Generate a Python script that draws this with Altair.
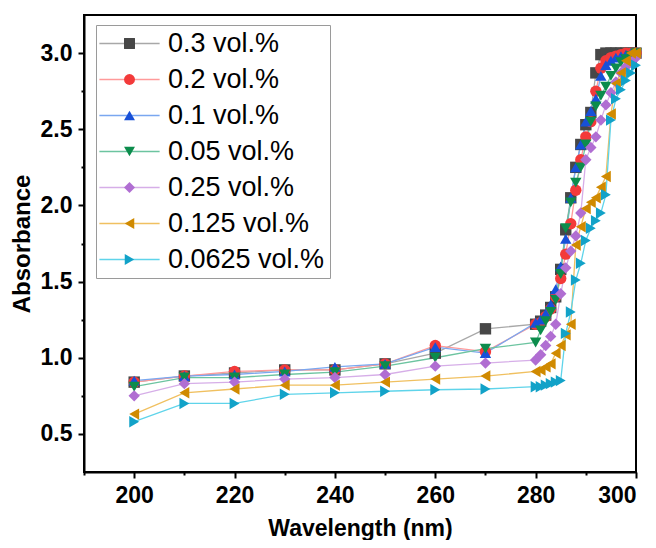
import altair as alt
import pandas as pd

wavelength = [200, 210, 220, 230, 240, 250, 260, 270, 280, 281, 282, 283, 284, 285,
              286, 287, 288, 289, 290, 291, 292, 293, 294, 295, 296, 297, 298, 299, 300]

series_names = ["0.3 vol.%", "0.2 vol.%", "0.1 vol.%", "0.05 vol.%",
                "0.25 vol.%", "0.125 vol.%", "0.0625 vol.%"]

abs_03 = [0.84, 0.88, 0.90, 0.92, 0.92, 0.96, 1.03, 1.19, 1.22, 1.24, 1.28, 1.33, 1.40, 1.58,
          1.84, 2.05, 2.25, 2.40, 2.53, 2.61, 2.87, 2.99, 3.00, 3.00, 3.00, 3.00, 3.00, 3.00, 3.00]
abs_02 = [0.84, 0.88, 0.91, 0.92, 0.92, 0.96, 1.08, 1.04, 1.22, 1.23, 1.27, 1.32, 1.40, 1.52,
          1.68, 1.88, 2.10, 2.30, 2.45, 2.55, 2.75, 2.90, 2.95, 2.97, 2.98, 2.99, 3.00, 3.00, 3.00]
abs_01 = [0.85, 0.88, 0.89, 0.91, 0.94, 0.96, 1.07, 1.03, 1.23, 1.25, 1.29, 1.35, 1.45, 1.60,
          1.78, 2.05, 2.25, 2.40, 2.55, 2.62, 2.70, 2.85, 2.92, 2.95, 2.97, 2.98, 2.99, 3.00, 3.00]
abs_005 = [0.81, 0.87, 0.87, 0.89, 0.905, 0.945, 1.00, 1.06, 1.10, 1.18, 1.24, 1.30, 1.38, 1.55,
           1.85, 2.02, 2.15, 2.25, 2.40, 2.55, 2.65, 2.72, 2.78, 2.85, 2.90, 2.94, 2.96, 2.98, 3.00]
abs_025 = [0.75, 0.83, 0.84, 0.86, 0.87, 0.89, 0.945, 0.965, 0.985, 1.02, 1.08, 1.14, 1.22, 1.42,
           1.59, 1.70, 1.80, 1.95, 2.30, 2.38, 2.45, 2.56, 2.66, 2.74, 2.81, 2.87, 2.91, 2.94, 2.97]
abs_0125 = [0.63, 0.77, 0.795, 0.82, 0.82, 0.84, 0.86, 0.88, 0.91, 0.92, 0.94, 0.96, 1.03, 1.08,
            1.15, 1.22, 1.74, 1.86, 1.98, 2.02, 2.05, 2.12, 2.19, 2.60, 2.80, 2.87, 2.95, 3.00, 3.00]
abs_00625 = [0.58, 0.70, 0.70, 0.76, 0.77, 0.78, 0.79, 0.795, 0.81, 0.81, 0.82, 0.83, 0.84, 0.85,
             1.16, 1.30, 1.51, 1.62, 1.77, 1.85, 1.90, 1.95, 2.07, 2.56, 2.70, 2.76, 2.82, 2.87, 2.92]

all_values = [abs_03, abs_02, abs_01, abs_005, abs_025, abs_0125, abs_00625]

dark_colors = ["#474747", "#f33a3a", "#1750d8", "#0c8c4c", "#b06ed2", "#d08a00", "#12a2c8"]
light_colors = ["#a8a8a8", "#ff9a9a", "#7aa7f0", "#6cc4a0", "#d6aee8", "#f0c060", "#5fd4ea"]
shapes = ["square", "circle", "triangle-up", "triangle-down", "diamond",
          "triangle-left", "triangle-right"]

x_ticks = list(range(190, 301, 10))
y_ticks = [0.5, 0.75, 1.0, 1.25, 1.5, 1.75, 2.0, 2.25, 2.5, 2.75, 3.0]

# line layer uses its own (visually identical) category keys so its legend stays separate
line_names = [n + " " for n in series_names]

rows = []
for name, lname, vals in zip(series_names, line_names, all_values):
    for w, v in zip(wavelength, vals):
        rows.append({"w": w, "a": v, "s": name, "line_s": lname})
df = pd.DataFrame(rows)

FONT = "Liberation Sans"
TICK_FONT = "Liberation Sans Narrow, Liberation Sans"

x_enc = alt.X(
    "w:Q",
    scale=alt.Scale(domain=[190, 300], nice=False, zero=False),
    axis=alt.Axis(
        values=x_ticks,
        labelExpr="datum.value % 20 == 0 ? datum.label : ''",
        tickSize={"condition": {"test": "datum.value % 20 == 0", "value": 6}, "value": 3},
        title="Wavelength (nm)",
        titlePadding=10,
        labelPadding=6,
    ),
)
y_enc = alt.Y(
    "a:Q",
    scale=alt.Scale(domain=[0.25, 3.25], nice=False, zero=False),
    axis=alt.Axis(
        values=y_ticks,
        format=".1f",
        labelExpr="(datum.value * 2) % 1 == 0 ? datum.label : ''",
        tickSize={"condition": {"test": "(datum.value * 2) % 1 == 0", "value": 6}, "value": 3},
        title="Absorbance",
        titlePadding=6,
        labelPadding=6,
        titleFontSize=24,
    ),
)

SYM = 120
line_legend = alt.Legend(
    title=None, orient="none", legendX=12, legendY=10, padding=5,
    strokeColor="#9a9a9a", symbolType="M-5.5,0H5.5", symbolSize=SYM, symbolStrokeWidth=1.5,
    symbolOffset=15, labelOffset=25, labelExpr="datum.label + '\u00a0'",
    labelFont=FONT, labelFontSize=27, labelColor="black", rowPadding=8, zindex=1,
)
point_legend = alt.Legend(
    title=None, orient="none", legendX=12, legendY=10, padding=5,
    symbolSize=SYM, symbolStrokeWidth=0, symbolOffset=15, labelOffset=25,
    labelFont=FONT, labelFontSize=27, labelOpacity=0, rowPadding=8, zindex=2,
)

lines = alt.Chart(df).mark_line(strokeWidth=1.3).encode(
    x=x_enc,
    y=y_enc,
    stroke=alt.Stroke("line_s:N", scale=alt.Scale(domain=line_names, range=light_colors),
                      legend=line_legend),
)

points = alt.Chart(df).mark_point(filled=True, size=130, opacity=1).encode(
    x=x_enc,
    y=y_enc,
    color=alt.Color("s:N", scale=alt.Scale(domain=series_names, range=dark_colors),
                    legend=point_legend),
    shape=alt.Shape("s:N", scale=alt.Scale(domain=series_names, range=shapes),
                    legend=point_legend),
)

chart = (
    alt.layer(lines, points)
    .properties(
        width=552, height=457,
        autosize=alt.AutoSizeParams(type="none"),
        padding={"left": 76, "top": 7, "right": 10, "bottom": 68},
        background="white",
    )
    .configure_view(stroke="black", strokeWidth=2)
    .configure_axis(
        domainColor="black", domainWidth=2, tickColor="black", tickWidth=2,
        grid=False, labelFont=TICK_FONT, labelFontSize=23, labelFontWeight="bold",
        labelColor="black", titleFont=FONT, titleFontSize=23, titleFontWeight="bold",
        titleColor="black",
    )
)

chart.save("out.html", embed_options={"renderer": "svg", "actions": False})
